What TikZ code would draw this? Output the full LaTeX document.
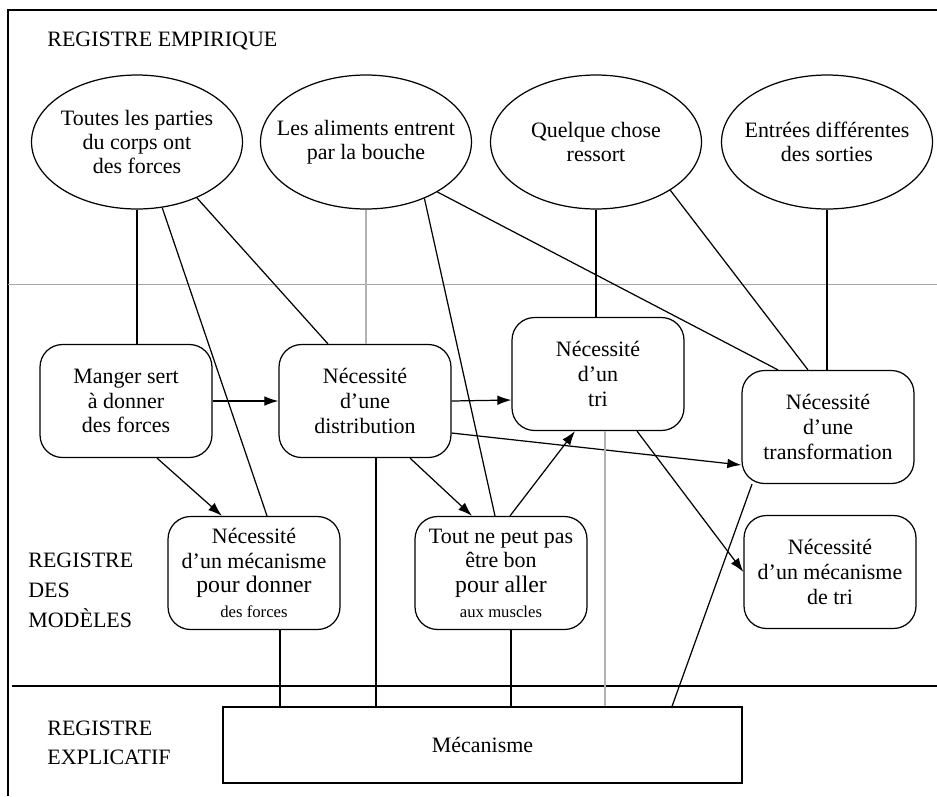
\documentclass[tikz,border=0pt]{standalone}
\usepackage{fontspec}
\setmainfont{Liberation Serif}
\usetikzlibrary{shapes.geometric,calc,arrows.meta}

\tikzset{
  empirique/.style={draw,ellipse,line width=0.7pt,minimum width=4.22cm,minimum height=2.68cm,
    inner xsep=-0.4cm,inner ysep=0pt,align=center,font=\fontsize{12.5}{13.5}\selectfont},
  modele/.style={draw,rounded corners=0.45cm,line width=0.7pt,minimum width=3.44cm,
    minimum height=2.26cm,inner sep=0pt,align=center,font=\fontsize{12.5}{14}\selectfont},
  registre/.style={align=left,anchor=west,inner sep=0pt,font=\fontsize{12.5}{17}\selectfont},
  lien/.style={line width=0.7pt},
  pale/.style={gray!60,line width=0.7pt},
  fleche/.style={-{Latex[length=8pt,width=5.5pt]}},
}

\begin{document}
\begin{tikzpicture}[x=0.02cm,y=-0.02cm]
  \useasboundingbox (0,0) rectangle (937,796);
  % cadre et registres
  \draw[lien] (8,796) -- (8,10) -- (937,10);
  \draw[gray!70,line width=0.5pt] (8,284) -- (937,284);
  \draw[line width=1.2pt] (12,686) -- (937,686);
  \node[registre] (remp) at (47,41) {REGISTRE EMPIRIQUE};
  \node[registre] (rmod) at (28,590) {REGISTRE\\DES\\MODÈLES};
  \node[registre,font=\fontsize{12.5}{16.5}\selectfont] (rexp) at (47,743) {REGISTRE\\EXPLICATIF};

  % registre empirique
  \node[empirique] (parties) at (137,142) {Toutes les parties\\du corps ont\\des forces};
  \node[empirique] (aliments) at (366,142) {Les aliments entrent\\par la bouche};
  \node[empirique] (ressort) at (596,142) {Quelque chose\\ressort};
  \node[empirique] (sorties) at (827,142) {Entrées différentes\\des sorties};

  % registre des modeles
  \node[modele] (manger) at (126,401) {Manger sert\\à donner\\des forces};
  \node[modele] (distrib) at (365,401) {Nécessité\\d'une\\distribution};
  \node[modele] (tri) at (598,374) {Nécessité\\d'un\\tri};
  \node[modele] (transfo) at (828,427) {Nécessité\\d'une\\transformation};
  \node[modele] (mecaforces) at (254,573) {Nécessité\\d'un mécanisme\\{\fontsize{13.5}{14}\selectfont pour donner}\\{\fontsize{9.5}{14}\selectfont des forces}};
  \node[modele] (muscles) at (501,573) {Tout ne peut pas\\être bon\\{\fontsize{13.5}{14}\selectfont pour aller}\\{\fontsize{9.5}{14}\selectfont aux muscles}};
  \node[modele] (mecatri) at (830,572) {Nécessité\\d'un mécanisme\\de tri};

  % registre explicatif
  \node[draw,lien,minimum width=10.38cm,minimum height=1.52cm,font=\fontsize{12.5}{14}\selectfont]
    (meca) at (482.5,745) {Mécanisme};

  % liens empirique - modeles
  \draw[lien] (parties.south) -- (parties.south |- manger.north);
  \draw[lien] (parties.-69) -- ($(mecaforces.north)+(13,0)$);
  \draw[lien] (parties.-43) -- ($(distrib.north)+(-37,0)$);
  \draw[pale] (aliments.south) -- (aliments.south |- distrib.north);
  \draw[lien] (aliments.-44) -- ($(muscles.north)+(-6,0)$);
  \draw[lien] (aliments.-35) -- ($(transfo.north)+(-50,0)$);
  \draw[lien] (ressort.south) -- (ressort.south |- tri.north);
  \draw[lien] (ressort.-33) -- ($(transfo.north)+(-20,0)$);
  \draw[lien] (sorties.south) -- (sorties.south |- transfo.north);

  % fleches entre modeles
  \draw[lien,fleche] (manger.east) -- (distrib.west);
  \draw[lien,fleche] ($(manger.south)+(31,0)$) -- ($(mecaforces.north)+(-32,0)$);
  \draw[lien,fleche] (distrib.east) -- ($(tri.west)+(0,26)$);
  \draw[lien,fleche] ($(distrib.east)+(0,32)$) -- ($(transfo.west)+(0,38)$);
  \draw[lien,fleche] ($(distrib.south)+(45,0)$) -- ($(muscles.north)+(-29,0)$);
  \draw[lien,fleche] ($(muscles.north)+(9,0)$) -- ($(tri.south)+(-23,0)$);
  \draw[lien,fleche] ($(tri.south)+(39,0)$) -- (mecatri.west);

  % liens vers le mecanisme
  \coordinate (ef) at ($(mecaforces.south)+(26,0)$);
  \coordinate (ed) at ($(distrib.south)+(11,0)$);
  \coordinate (em) at ($(muscles.south)+(10,0)$);
  \coordinate (et) at ($(tri.south)+(7,0)$);
  \draw[lien] (ef) -- (ef |- meca.north);
  \draw[lien] (ed) -- (ed |- meca.north);
  \draw[lien] (em) -- (em |- meca.north);
  \draw[pale] (et) -- (et |- meca.north);
  \draw[lien] ($(transfo.south)+(-76,0)$) -- ($(meca.north)+(189.5,0)$);
\end{tikzpicture}
\end{document}
